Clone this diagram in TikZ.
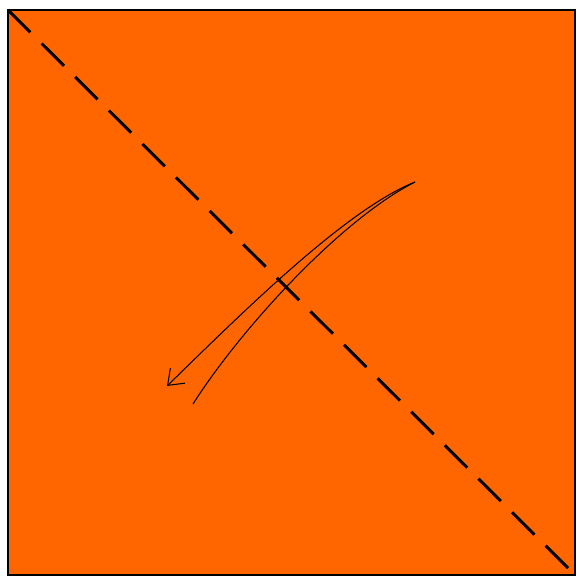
\documentclass[tikz,border=0pt]{standalone}
\usepackage{xcolor}
\usetikzlibrary{arrows.meta,positioning}
\definecolor{paperorange}{RGB}{255,102,0}

\begin{document}
\begin{tikzpicture}[x=0.02cm, y=-0.02cm,
  paper/.style={draw=black, line width=1.2pt, fill=paperorange},
  valley/.style={line width=1.7pt, dash pattern=on 18pt off 9pt},
  foldarrow/.style={line width=0.6pt, -{Straight Barb[length=8pt,width=12pt]}}
]
\useasboundingbox (0,0) rectangle (577,577);

% paper square
\draw[paper] (8,10) rectangle (575,575);
\coordinate (TL) at (8,10);
\coordinate (BR) at (575,575);

% valley fold along the diagonal
\draw[valley] (TL) -- (BR);

% fold arrow
\coordinate (tail) at (193,404);
\coordinate (turn) at (415,182);
\coordinate (head) at (167,386);
\draw[line width=0.6pt] (tail) .. controls (240,330) and (340,220) .. (turn);
\draw[foldarrow] (turn) .. controls (345,210) and (240,315) .. (head);
\end{tikzpicture}
\end{document}
